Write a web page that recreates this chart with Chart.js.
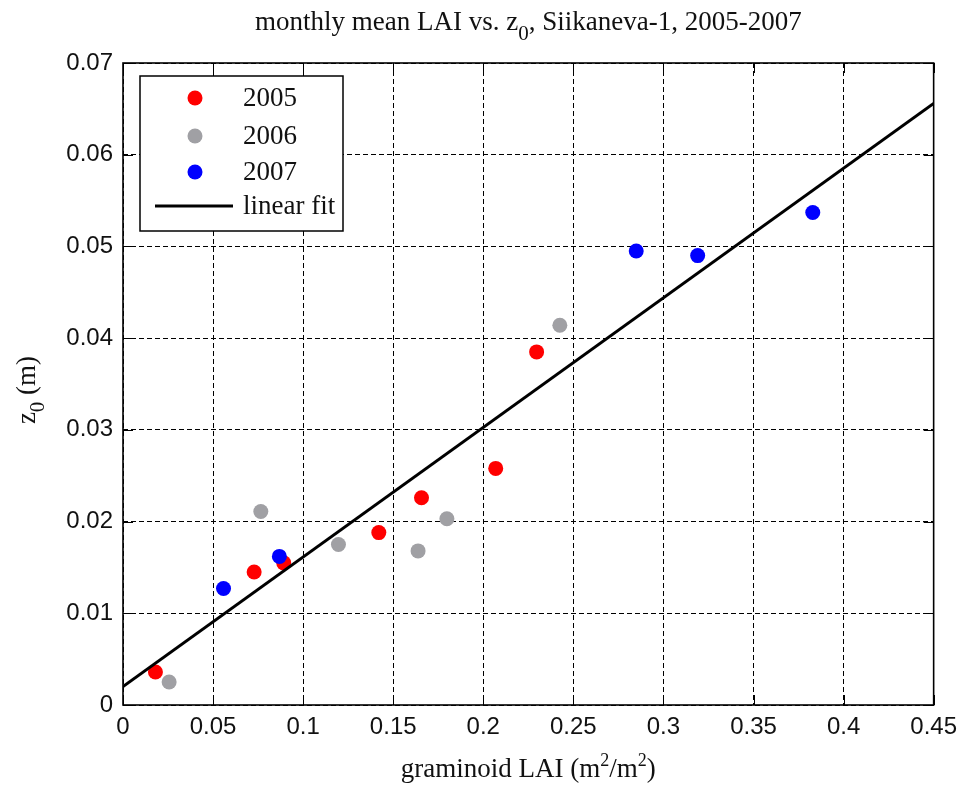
<!DOCTYPE html>
<html>
<head>
<meta charset="utf-8">
<script src="https://cdn.jsdelivr.net/npm/chart.js@4"></script>
<style>
  html, body { margin: 0; padding: 0; background: #fff; }
  canvas { display: block; }
</style>
</head>
<body>
<canvas id="c" width="965" height="787"></canvas>
<script>
// Monthly mean graminoid LAI against roughness length z0, Siikaneva-1
const years = ['2005', '2006', '2007'];
const lai2005 = [0.018, 0.0728, 0.0892, 0.142, 0.1657, 0.2069, 0.2296];
const z0_2005 = [0.0036, 0.0145, 0.0155, 0.0188, 0.0226, 0.0258, 0.0385];
const lai2006 = [0.0256, 0.0765, 0.1196, 0.1638, 0.1798, 0.2425];
const z0_2006 = [0.0025, 0.0211, 0.0175, 0.0168, 0.0203, 0.0414];
const lai2007 = [0.0558, 0.0868, 0.2849, 0.319, 0.3829];
const z0_2007 = [0.0127, 0.0162, 0.0495, 0.049, 0.0537];
// end points of the linear fit across the LAI axis range
const fitLai = [0, 0.45];
const fitZ0 = [0.0020, 0.0656];
const fitLabel = 'linear fit';

const xTickLabels = ['0', '0.05', '0.1', '0.15', '0.2', '0.25', '0.3', '0.35', '0.4', '0.45'];
const yTickLabels = ['0', '0.01', '0.02', '0.03', '0.04', '0.05', '0.06', '0.07'];

const colors = ['#ff0000', '#a0a0a4', '#0000ff'];
const TEXT = '#111';
const SERIF = '"Liberation Serif", "Times New Roman", serif';
const SANS = '"Liberation Sans", Arial, sans-serif';

const toPts = (xs, ys) => xs.map((x, i) => ({ x: x, y: ys[i] }));

const pointSet = (label, xs, ys, color, order) => ({
  label: label,
  data: toPts(xs, ys),
  backgroundColor: color,
  borderColor: color,
  borderWidth: 0,
  pointRadius: 7.5,
  pointHoverRadius: 7.5,
  showLine: false,
  order: order
});

// draws a run of text pieces with sub/superscripts, centred on x
function richText(ctx, parts, x, y) {
  let total = 0;
  parts.forEach(p => { ctx.font = p.size + 'px ' + SERIF; p.w = ctx.measureText(p.t).width; total += p.w; });
  let cx = x - total / 2;
  ctx.textAlign = 'left';
  ctx.textBaseline = 'alphabetic';
  parts.forEach(p => {
    ctx.font = p.size + 'px ' + SERIF;
    ctx.fillText(p.t, cx, y + (p.dy || 0));
    cx += p.w;
  });
}

const decorations = {
  id: 'decorations',
  afterDatasetsDraw(chart) {
    const ctx = chart.ctx;
    const a = chart.chartArea;
    const xs = chart.scales.x, ys = chart.scales.y;
    ctx.save();
    // inward tick marks on all four sides
    ctx.strokeStyle = '#000';
    ctx.lineWidth = 1;
    const tl = 10;
    ctx.beginPath();
    xs.ticks.forEach(t => {
      const px = Math.round(xs.getPixelForValue(t.value)) + 0.5;
      ctx.moveTo(px, a.bottom); ctx.lineTo(px, a.bottom - tl);
      ctx.moveTo(px, a.top); ctx.lineTo(px, a.top + tl);
    });
    ys.ticks.forEach(t => {
      const py = Math.round(ys.getPixelForValue(t.value)) + 0.5;
      ctx.moveTo(a.left, py); ctx.lineTo(a.left + tl, py);
      ctx.moveTo(a.right, py); ctx.lineTo(a.right - tl, py);
    });
    ctx.stroke();
    // plot frame
    ctx.lineWidth = 1.6;
    ctx.strokeRect(a.left, a.top, a.right - a.left, a.bottom - a.top);

    // legend box
    const lx = 140, ly = 76, lw = 203, lh = 155;
    ctx.fillStyle = '#fff';
    ctx.fillRect(lx, ly, lw, lh);
    ctx.lineWidth = 1.5;
    ctx.strokeRect(lx, ly, lw, lh);
    const rows = [98, 136, 172, 206];
    const entries = chart.data.datasets;
    ctx.font = '27px ' + SERIF;
    ctx.textAlign = 'left';
    ctx.textBaseline = 'middle';
    entries.forEach((ds, i) => {
      const ry = rows[i];
      if (ds.showLine) {
        ctx.strokeStyle = ds.borderColor;
        ctx.lineWidth = 3;
        ctx.beginPath(); ctx.moveTo(155, ry); ctx.lineTo(233, ry); ctx.stroke();
      } else {
        ctx.fillStyle = ds.backgroundColor;
        ctx.beginPath(); ctx.arc(195, ry, 7.5, 0, Math.PI * 2); ctx.fill();
      }
      ctx.fillStyle = TEXT;
      ctx.fillText(ds.label, 243, ry + 1);
    });

    // title and axis titles
    ctx.fillStyle = TEXT;
    const cx = (a.left + a.right) / 2;
    richText(ctx, [
      { t: 'monthly mean LAI vs. z', size: 27 },
      { t: '0', size: 21, dy: 10 },
      { t: ', Siikaneva-1, 2005-2007', size: 27 }
    ], cx, 30);
    richText(ctx, [
      { t: 'graminoid LAI (m', size: 27 },
      { t: '2', size: 18, dy: -11 },
      { t: '/m', size: 27 },
      { t: '2', size: 18, dy: -11 },
      { t: ')', size: 27 }
    ], cx, 777);
    ctx.save();
    ctx.translate(35, (a.top + a.bottom) / 2 + 6);
    ctx.rotate(-Math.PI / 2);
    richText(ctx, [
      { t: 'z', size: 27 },
      { t: '0', size: 21, dy: 9 },
      { t: ' (m)', size: 27 }
    ], 0, 0);
    ctx.restore();
    ctx.restore();
  }
};

new Chart(document.getElementById('c'), {
  type: 'scatter',
  data: {
    datasets: [
      pointSet(years[0], lai2005, z0_2005, colors[0], 3),
      pointSet(years[1], lai2006, z0_2006, colors[1], 2),
      pointSet(years[2], lai2007, z0_2007, colors[2], 1),
      {
        label: fitLabel,
        data: toPts(fitLai, fitZ0),
        showLine: true,
        borderColor: '#000',
        backgroundColor: '#000',
        borderWidth: 3,
        pointRadius: 0,
        pointHoverRadius: 0,
        order: 0
      }
    ]
  },
  options: {
    responsive: false,
    devicePixelRatio: 1,
    animation: false,
    layout: { padding: { top: 63, right: 29, left: 0, bottom: 0 } },
    plugins: { legend: { display: false }, tooltip: { enabled: false } },
    scales: {
      x: {
        type: 'linear',
        min: 0, max: 0.45,
        ticks: {
          stepSize: 0.05,
          callback: (v, i) => xTickLabels[i],
          font: { family: SANS, size: 24 },
          color: TEXT,
          padding: 8,
          maxRotation: 0
        },
        grid: { color: '#000', lineWidth: 1, drawTicks: false },
        border: { display: false, dash: [5, 3] },
        afterFit(s) { s.height = 82; }
      },
      y: {
        type: 'linear',
        min: 0, max: 0.07,
        ticks: {
          stepSize: 0.01,
          callback: (v, i) => yTickLabels[i],
          font: { family: SANS, size: 24 },
          color: TEXT,
          padding: 10
        },
        grid: { color: '#000', lineWidth: 1, drawTicks: false },
        border: { display: false, dash: [5, 3] },
        afterFit(s) { s.width = 123; }
      }
    }
  },
  plugins: [decorations]
});
</script>
</body>
</html>
